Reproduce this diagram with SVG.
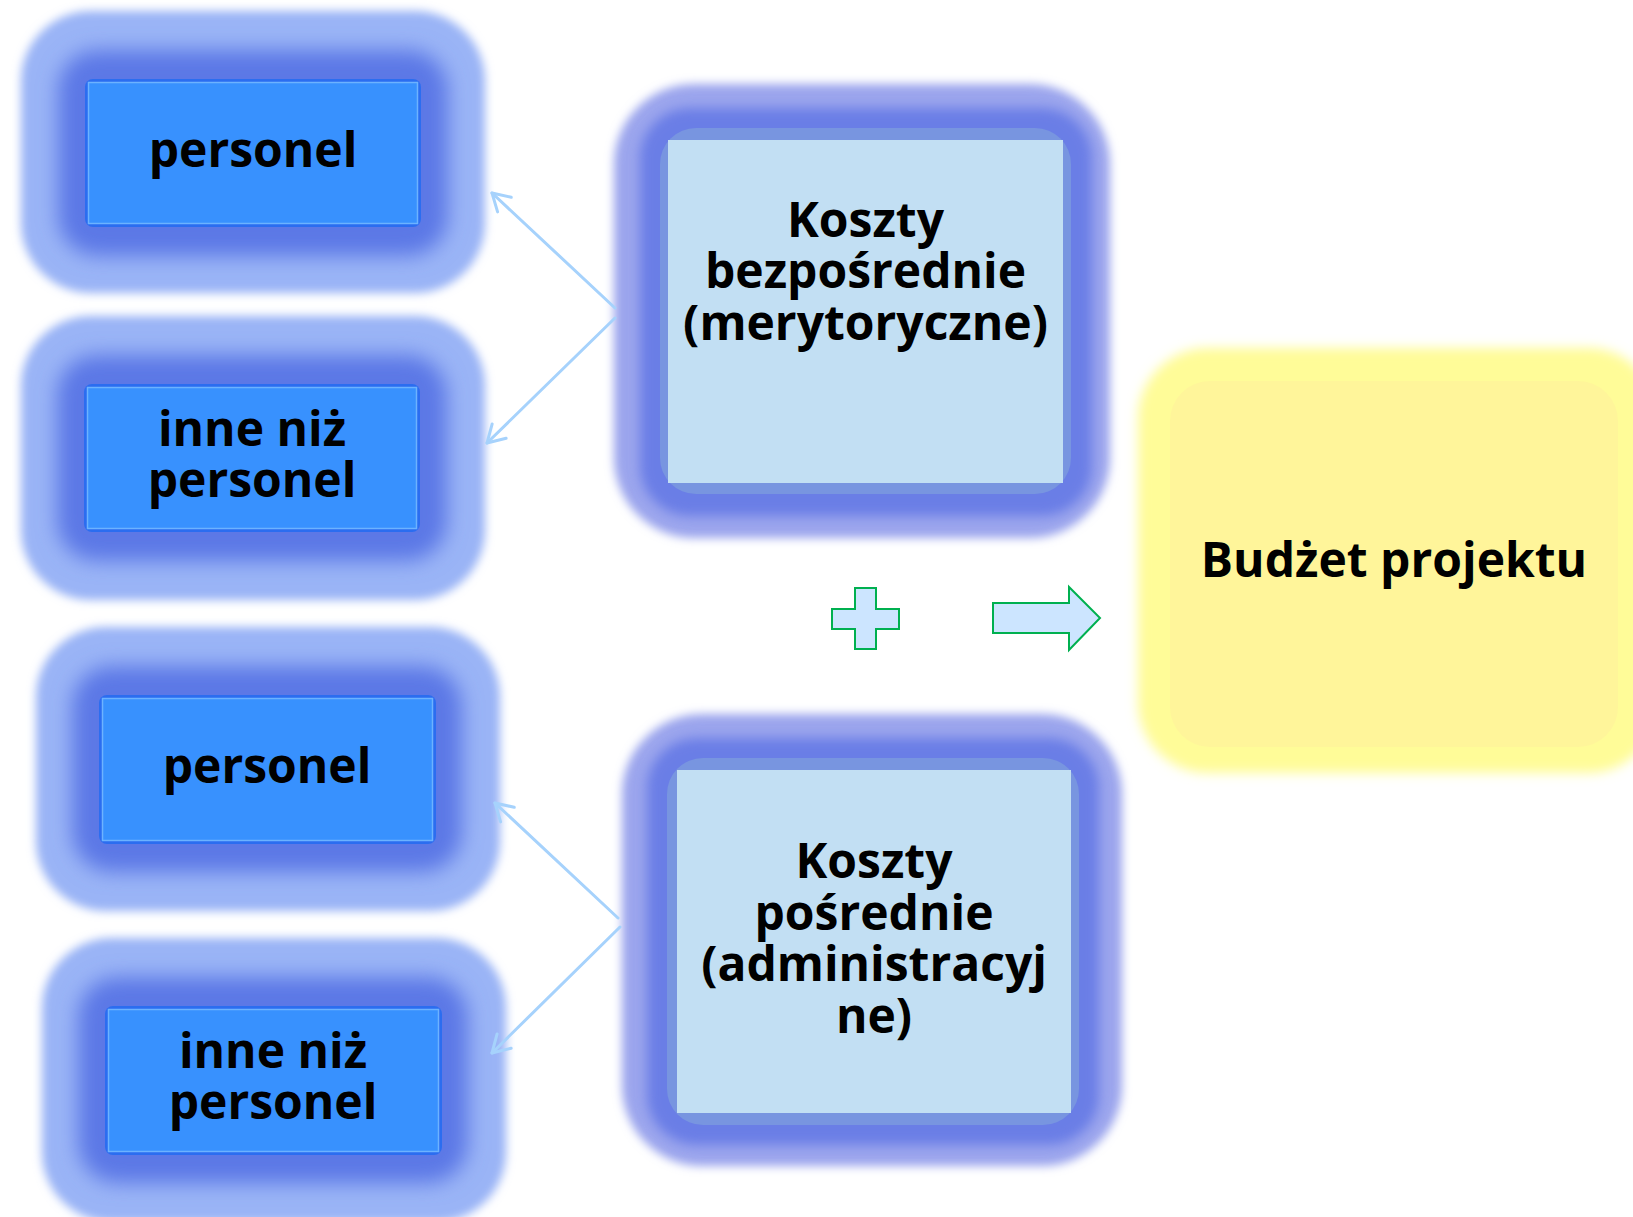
<svg xmlns="http://www.w3.org/2000/svg" width="1633" height="1217" viewBox="0 0 1633 1217">
<defs>
<style>
.lbl{font-family:"Open Sans","Noto Sans","Liberation Sans",sans-serif;font-weight:700;font-size:48px;fill:#000;text-anchor:middle}
.halo{fill:#9ab4f6}
.dark{fill:#5b78e6}
.edge{fill:#2b6df0}
.small{fill:#3891fe;stroke:#6cb2ff;stroke-width:1.5}
.bhalo{fill:#9ba5ed}
.bdark{fill:#6a7ee6}
.back{fill:#7895e0}
.inner{fill:#c2dff3}
.conn{stroke:#a6d2fc;stroke-width:3;fill:none;stroke-linecap:round}
.sym{fill:#cce5ff;stroke:#00b050;stroke-width:2}
</style>
<filter id="b4" x="-20%" y="-20%" width="140%" height="140%"><feGaussianBlur stdDeviation="5"/></filter>
<filter id="b10" x="-20%" y="-20%" width="140%" height="140%"><feGaussianBlur stdDeviation="10"/></filter>
<filter id="b6" x="-20%" y="-20%" width="140%" height="140%"><feGaussianBlur stdDeviation="6"/></filter>
<marker id="ah" viewBox="0 0 24 24" refX="20" refY="12" markerWidth="24" markerHeight="24" markerUnits="userSpaceOnUse" orient="auto">
<path d="M3,2 L20,12 L3,22" fill="none" stroke="#a6d2fc" stroke-width="3" stroke-linecap="round" stroke-linejoin="round"/>
</marker>
</defs>
<rect width="1633" height="1217" fill="#fff"/>

<g id="n1">
<rect class="halo" x="21" y="11" width="464" height="282" rx="70" filter="url(#b4)"/>
<rect class="dark" x="58" y="50" width="390" height="206" rx="40" filter="url(#b10)"/>
<rect class="edge" x="85" y="79" width="336" height="148" rx="8"/>
<rect class="small" x="88.5" y="82.5" width="329" height="141"/>
<text class="lbl" x="253" y="167">personel</text>
</g>

<g id="n2">
<rect class="halo" x="21" y="316" width="464" height="284" rx="70" filter="url(#b4)"/>
<rect class="dark" x="57" y="355" width="390" height="206" rx="40" filter="url(#b10)"/>
<rect class="edge" x="84" y="384" width="336" height="148" rx="8"/>
<rect class="small" x="87.5" y="387.5" width="329" height="141"/>
<text class="lbl" x="252" y="446">inne niż</text>
<text class="lbl" x="252" y="497">personel</text>
</g>

<g id="n3">
<rect class="halo" x="36" y="627" width="464" height="284" rx="70" filter="url(#b4)"/>
<rect class="dark" x="72" y="666" width="390" height="206" rx="40" filter="url(#b10)"/>
<rect class="edge" x="99" y="695" width="337" height="149" rx="8"/>
<rect class="small" x="102.5" y="698.5" width="330" height="142"/>
<text class="lbl" x="267" y="783">personel</text>
</g>

<g id="n4">
<rect class="halo" x="42" y="938" width="464" height="284" rx="70" filter="url(#b4)"/>
<rect class="dark" x="78" y="977" width="390" height="206" rx="40" filter="url(#b10)"/>
<rect class="edge" x="105" y="1006" width="337" height="149" rx="8"/>
<rect class="small" x="108.5" y="1009.5" width="330" height="142"/>
<text class="lbl" x="273" y="1068">inne niż</text>
<text class="lbl" x="273" y="1119">personel</text>
</g>

<g id="k1">
<rect class="bhalo" x="614" y="84" width="496" height="454" rx="80" filter="url(#b4)"/>
<rect class="bdark" x="640" y="108" width="452" height="408" rx="50" filter="url(#b6)"/>
<rect class="back" x="660" y="128" width="411" height="366" rx="36"/>
<rect class="inner" x="668" y="140" width="395" height="343"/>
<text class="lbl" x="865.5" y="237">Koszty</text>
<text class="lbl" x="865.5" y="288">bezpośrednie</text>
<text class="lbl" x="865.5" y="340">(merytoryczne)</text>
</g>

<g id="k2">
<rect class="bhalo" x="622" y="714" width="500" height="452" rx="80" filter="url(#b4)"/>
<rect class="bdark" x="647" y="738" width="452" height="407" rx="50" filter="url(#b6)"/>
<rect class="back" x="667" y="758" width="412" height="367" rx="36"/>
<rect class="inner" x="677" y="770" width="394" height="343"/>
<text class="lbl" x="874" y="878">Koszty</text>
<text class="lbl" x="874" y="930">pośrednie</text>
<text class="lbl" x="874" y="981">(administracyj</text>
<text class="lbl" x="874" y="1033">ne)</text>
</g>

<g id="budzet">
<rect x="1138" y="348" width="520" height="425" rx="70" fill="#fffc98" filter="url(#b6)"/>
<rect x="1170" y="381" width="448" height="366" rx="40" fill="#fff59a"/>
<text class="lbl" x="1394" y="577">Budżet projektu</text>
</g>

<g id="plus">
<polygon class="sym" points="855,588 876,588 876,609 899,609 899,629 876,629 876,649 855,649 855,629 832,629 832,609 855,609"/>
</g>
<g id="arrow">
<polygon class="sym" points="993,603 1069,603 1069,587 1100,618 1069,650 1069,633 993,633"/>
</g>

<g id="connectors">
<line class="conn" x1="615" y1="308" x2="492" y2="193" marker-end="url(#ah)"/>
<line class="conn" x1="615" y1="318" x2="487" y2="443" marker-end="url(#ah)"/>
<line class="conn" x1="618" y1="918" x2="495" y2="803" marker-end="url(#ah)"/>
<line class="conn" x1="620" y1="927" x2="492" y2="1053" marker-end="url(#ah)"/>
</g>
</svg>
